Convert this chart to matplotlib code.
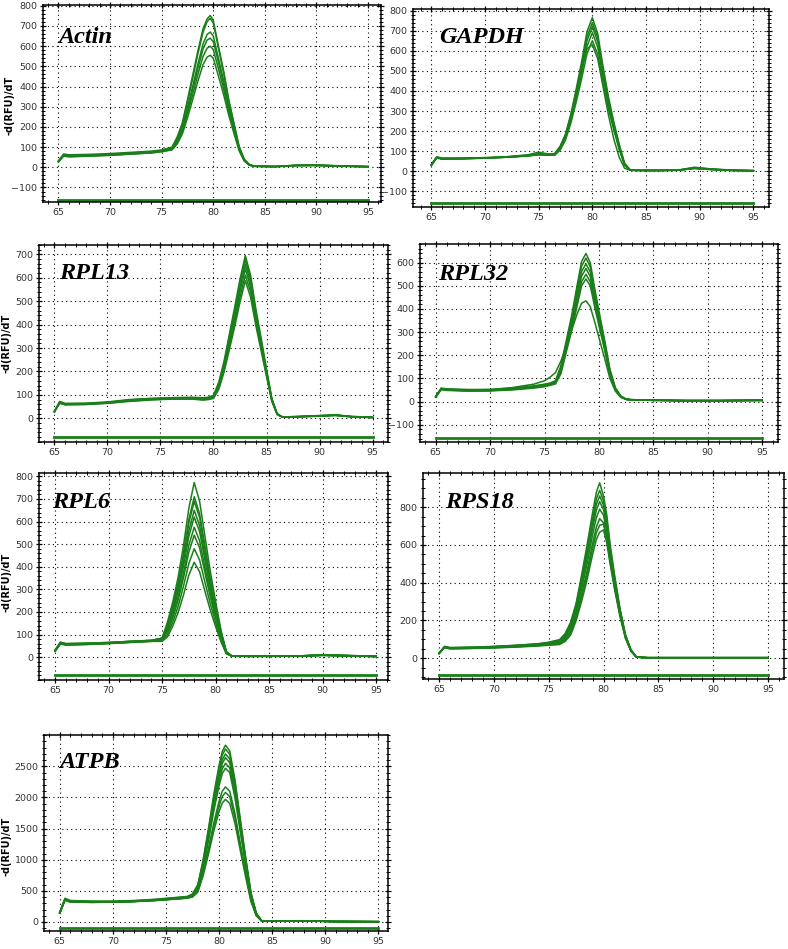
"""
Melt curve panels (-d(RFU)/dT vs. temperature) for the seven reference genes.
Each gene has its own temperature knots and a handful of replicate curves read off the instrument plots.
"""

import matplotlib
matplotlib.use('Agg')
import matplotlib.pyplot as plt
from matplotlib.ticker import MultipleLocator

GREEN = '#1a7f1a'

# Actin.
actin_t = [65, 65.5, 66, 68, 70, 72, 74, 75, 76, 76.5, 77, 77.5, 78, 78.5, 79, 79.4, 79.7, 80, 80.5, 81, 81.5,
           82, 82.5, 83, 83.5, 84, 86, 88, 90, 92, 95]
actin_y = [[32, 66, 62, 64, 68, 74, 80, 86, 100, 150, 220, 335, 455, 575, 685, 735, 752, 728, 600, 478, 335, 220,
            105, 40, 14, 6, 4, 10, 11, 8, 4],
           [28, 60, 58, 60, 64, 70, 76, 82, 95, 142, 210, 322, 440, 560, 668, 722, 738, 715, 590, 468, 328, 212,
            100, 38, 12, 5, 4, 9, 10, 7, 3],
           [30, 58, 55, 58, 62, 68, 74, 80, 92, 135, 195, 295, 400, 510, 610, 658, 670, 650, 540, 430, 305, 198,
            95, 36, 12, 5, 4, 9, 10, 7, 3],
           [26, 62, 57, 60, 63, 69, 75, 81, 93, 130, 188, 282, 385, 488, 585, 630, 640, 622, 520, 412, 292, 190,
            92, 35, 11, 5, 4, 10, 10, 7, 3],
           [30, 55, 52, 55, 59, 65, 71, 77, 88, 122, 175, 265, 360, 458, 548, 590, 600, 583, 488, 388, 276, 180,
            88, 33, 11, 5, 3, 9, 9, 6, 3],
           [28, 57, 53, 56, 60, 66, 72, 78, 86, 115, 165, 245, 335, 425, 508, 546, 555, 540, 452, 360, 258, 168,
            82, 31, 10, 5, 3, 8, 9, 6, 2]]
actin_flat = -163

# GAPDH.
gapdh_t = [65, 65.5, 66, 68, 70, 72, 74, 75, 76, 76.5, 77, 77.5, 78, 78.5, 79, 79.5, 80, 80.5, 81, 81.5, 82, 82.5,
           83, 83.5, 84, 86, 88, 89.5, 91, 93, 95]
gapdh_y = [[32, 72, 66, 66, 68, 72, 80, 88, 85, 88, 125, 185, 285, 410, 545, 695, 765, 685, 520, 370, 245, 135,
            40, 8, 5, 4, 6, 20, 12, 6, 4],
           [28, 68, 62, 63, 66, 70, 78, 84, 82, 86, 120, 178, 275, 395, 525, 670, 740, 665, 505, 358, 236, 128,
            38, 8, 5, 4, 5, 18, 11, 5, 3],
           [30, 70, 64, 64, 67, 72, 82, 95, 85, 84, 115, 172, 266, 382, 510, 650, 720, 645, 490, 346, 228, 122,
            36, 7, 5, 4, 6, 16, 10, 5, 3],
           [28, 66, 60, 62, 65, 70, 76, 82, 80, 82, 110, 165, 255, 366, 488, 622, 690, 618, 468, 330, 218, 115,
            33, 7, 4, 4, 5, 15, 9, 4, 2],
           [30, 68, 62, 63, 66, 70, 77, 83, 80, 80, 105, 155, 240, 345, 460, 585, 650, 582, 440, 310, 205, 108,
            30, 6, 4, 4, 5, 14, 9, 4, 2],
           [30, 68, 62, 63, 66, 70, 77, 83, 82, 88, 120, 180, 275, 390, 510, 610, 630, 560, 420, 280, 160, 70,
            15, 5, 4, 4, 5, 14, 9, 4, 2]]
gapdh_flat = -158

# RPL13.
rpl13_t = [65, 65.5, 66, 68, 70, 72, 74, 76, 78, 79, 79.5, 80, 80.5, 81, 81.5, 82, 82.5, 83, 83.5, 84, 84.5, 85,
           85.5, 86, 86.5, 88, 90, 91.5, 93, 95]
rpl13_y = [[30, 72, 64, 65, 70, 80, 85, 88, 90, 88, 90, 98, 155, 245, 360, 475, 595, 695, 610, 465, 340, 210, 85,
            20, 6, 8, 12, 15, 8, 5],
           [28, 68, 60, 62, 67, 77, 83, 86, 88, 86, 88, 95, 148, 236, 348, 460, 578, 678, 595, 452, 330, 204, 82,
            19, 6, 8, 11, 14, 8, 4],
           [30, 70, 62, 63, 68, 78, 84, 86, 86, 84, 86, 93, 142, 228, 336, 445, 560, 658, 578, 440, 320, 198, 80,
            18, 6, 7, 11, 14, 7, 4],
           [26, 66, 58, 60, 65, 74, 80, 83, 84, 82, 84, 90, 136, 218, 322, 428, 540, 638, 560, 426, 310, 192, 78,
            18, 5, 7, 10, 13, 7, 4],
           [28, 68, 60, 62, 66, 76, 82, 85, 84, 80, 82, 88, 130, 208, 308, 410, 518, 612, 538, 410, 298, 185, 75,
            17, 5, 7, 10, 13, 7, 4],
           [30, 64, 58, 59, 64, 72, 78, 82, 82, 78, 80, 85, 124, 198, 294, 392, 496, 588, 516, 394, 286, 178, 72,
            16, 5, 6, 9, 12, 6, 3]]
rpl13_flat = -81

# RPL32.
rpl32_t = [65, 65.5, 66, 68, 70, 72, 74, 75, 75.5, 76, 76.5, 77, 77.5, 78, 78.4, 78.8, 79.2, 79.6, 80, 80.5, 81,
           81.5, 82, 82.5, 83, 85, 88, 91, 95]
rpl32_y = [[22, 58, 55, 52, 52, 58, 68, 75, 80, 90, 155, 265, 375, 505, 605, 640, 600, 490, 390, 270, 140, 60, 24,
            10, 8, 6, 4, 4, 6],
           [20, 55, 52, 50, 50, 56, 65, 72, 77, 86, 148, 255, 362, 488, 585, 620, 582, 475, 378, 262, 136, 58, 23,
            10, 8, 6, 4, 4, 6],
           [24, 56, 52, 48, 48, 54, 62, 70, 75, 84, 140, 245, 348, 468, 562, 595, 560, 458, 365, 252, 130, 56, 22,
            10, 8, 6, 4, 4, 5],
           [18, 52, 50, 46, 47, 52, 60, 66, 72, 80, 132, 235, 335, 452, 542, 575, 540, 442, 352, 244, 126, 54, 22,
            10, 7, 6, 4, 4, 5],
           [22, 54, 50, 47, 48, 53, 62, 70, 74, 80, 128, 225, 320, 432, 518, 550, 518, 424, 338, 234, 120, 52, 21,
            9, 7, 5, 4, 4, 5],
           [20, 52, 48, 45, 46, 50, 58, 64, 70, 76, 120, 215, 308, 416, 500, 530, 500, 410, 326, 226, 116, 50, 20,
            9, 7, 5, 3, 3, 5],
           [22, 56, 52, 50, 52, 60, 75, 90, 105, 125, 175, 240, 310, 380, 425, 435, 410, 345, 275, 190, 100, 45, 18,
            9, 7, 5, 4, 4, 5]]
rpl32_flat = -158

# RPL6.
rpl6_t = [65, 65.5, 66, 68, 70, 72, 74, 75, 75.5, 76, 76.5, 77, 77.5, 78, 78.5, 79, 79.5, 80, 80.5, 81, 81.5, 83,
          86, 88, 90, 92, 95]
rpl6_y = [[30, 66, 60, 62, 65, 70, 74, 85, 155, 245, 355, 495, 660, 773, 690, 535, 380, 245, 120, 25, 6, 4, 5, 6,
           10, 8, 4],
          [28, 64, 58, 60, 63, 68, 72, 82, 145, 228, 330, 460, 610, 710, 635, 492, 350, 225, 110, 23, 6, 4, 5, 6,
           9, 7, 4],
          [30, 66, 60, 62, 65, 70, 74, 84, 142, 222, 322, 448, 594, 690, 618, 478, 340, 220, 108, 22, 6, 4, 5, 6,
           10, 8, 4],
          [26, 62, 56, 58, 62, 67, 72, 80, 132, 208, 302, 422, 560, 650, 582, 450, 320, 207, 102, 21, 5, 4, 5, 6,
           9, 7, 4],
          [30, 64, 58, 60, 64, 70, 75, 82, 128, 200, 290, 405, 535, 620, 556, 430, 305, 198, 98, 20, 5, 4, 5, 6,
           9, 7, 3],
          [28, 60, 55, 57, 61, 66, 71, 78, 118, 185, 268, 375, 496, 575, 515, 398, 284, 184, 90, 19, 5, 4, 4, 5,
           9, 7, 3],
          [30, 62, 56, 58, 62, 67, 72, 76, 112, 174, 252, 352, 466, 540, 484, 374, 266, 172, 85, 18, 5, 4, 4, 5,
           8, 6, 3],
          [26, 58, 54, 56, 60, 65, 70, 72, 100, 155, 225, 315, 415, 480, 430, 332, 236, 153, 76, 16, 5, 4, 4, 5,
           8, 6, 3],
          [28, 60, 55, 57, 61, 66, 70, 70, 90, 138, 198, 276, 364, 420, 378, 292, 208, 135, 68, 15, 5, 3, 4, 5,
           8, 6, 3]]
rpl6_flat = -81

# RPS18.
rps18_t = [65, 65.5, 66, 68, 70, 72, 74, 75, 76, 76.5, 77, 77.5, 78, 78.5, 79, 79.35, 79.65, 80, 80.3, 80.6, 81,
           81.5, 82, 82.5, 83, 84, 88, 91, 95]
rps18_y = [[25, 62, 56, 58, 62, 68, 76, 84, 98, 130, 190, 290, 440, 600, 770, 880, 930, 860, 760, 605, 445, 265,
            125, 45, 6, 2, 2, 2, 2],
           [24, 60, 55, 57, 61, 67, 75, 82, 95, 125, 180, 280, 420, 572, 740, 845, 890, 835, 735, 588, 432, 258,
            122, 42, 6, 2, 2, 2, 2],
           [26, 60, 54, 56, 60, 66, 73, 80, 92, 120, 172, 270, 405, 552, 715, 815, 860, 812, 715, 575, 420, 252,
            120, 42, 6, 2, 2, 2, 2],
           [24, 58, 53, 55, 59, 64, 71, 78, 88, 114, 164, 258, 388, 530, 688, 785, 830, 788, 695, 560, 410, 245,
            116, 40, 5, 2, 2, 2, 2],
           [26, 58, 52, 54, 58, 63, 70, 76, 85, 108, 154, 244, 366, 500, 652, 745, 790, 758, 670, 540, 395, 238,
            113, 40, 5, 2, 2, 2, 2],
           [24, 56, 50, 52, 56, 61, 68, 73, 80, 100, 140, 225, 338, 462, 608, 695, 740, 718, 640, 520, 382, 230,
            110, 38, 5, 2, 2, 2, 2],
           [26, 56, 50, 52, 55, 60, 66, 71, 76, 95, 132, 212, 320, 440, 580, 665, 705, 710, 635, 515, 378, 228,
            108, 38, 5, 2, 2, 2, 2],
           [24, 55, 50, 51, 54, 58, 64, 68, 72, 88, 122, 198, 300, 415, 548, 630, 668, 680, 612, 500, 368, 222,
            106, 37, 5, 2, 2, 2, 2]]
rps18_flat = -90

# ATPB.
atpb_t = [65, 65.5, 66, 68, 70, 72, 74, 76, 77, 77.5, 78, 78.5, 79, 79.5, 80, 80.3, 80.6, 81, 81.5, 82, 82.5, 83,
          83.5, 84, 85, 88, 91, 95]
atpb_y = [[150, 380, 345, 335, 335, 345, 365, 395, 410, 450, 600, 1000, 1500, 2050, 2520, 2740, 2840, 2750, 2280,
           1650, 1040, 470, 140, 20, 18, 20, 8, 5],
          [140, 370, 335, 325, 325, 335, 355, 385, 400, 440, 585, 975, 1465, 2005, 2465, 2680, 2780, 2695, 2235,
           1620, 1020, 462, 138, 20, 18, 20, 8, 5],
          [160, 375, 340, 330, 330, 340, 360, 390, 405, 440, 575, 950, 1425, 1950, 2395, 2605, 2700, 2620, 2175,
           1575, 995, 450, 135, 20, 18, 19, 8, 5],
          [145, 365, 330, 320, 322, 332, 350, 378, 392, 430, 560, 925, 1390, 1905, 2340, 2545, 2640, 2560, 2125,
           1540, 972, 440, 132, 19, 17, 19, 7, 5],
          [150, 360, 325, 318, 320, 330, 348, 372, 388, 420, 545, 895, 1345, 1840, 2260, 2460, 2550, 2475, 2055,
           1490, 940, 425, 128, 19, 17, 18, 7, 4],
          [140, 355, 320, 315, 318, 328, 345, 368, 382, 410, 530, 868, 1300, 1780, 2190, 2385, 2470, 2400, 1990,
           1445, 912, 412, 125, 18, 16, 18, 7, 4],
          [150, 360, 328, 320, 322, 332, 352, 380, 392, 415, 510, 800, 1180, 1590, 1940, 2100, 2170, 2100, 1740,
           1260, 800, 360, 110, 17, 15, 17, 7, 4],
          [145, 350, 320, 315, 318, 328, 345, 372, 385, 405, 495, 775, 1140, 1530, 1865, 2015, 2080, 2015, 1670,
           1210, 765, 345, 105, 16, 15, 16, 6, 4],
          [140, 355, 322, 316, 320, 330, 348, 375, 388, 402, 480, 745, 1090, 1460, 1775, 1910, 1970, 1905, 1580,
           1145, 725, 328, 100, 16, 14, 16, 6, 4]]
atpb_flat = -96

# Panel names and y tick values.
names = ['Actin', 'GAPDH', 'RPL13', 'RPL32', 'RPL6', 'RPS18', 'ATPB']
y_ticks = [list(range(-100, 801, 100)), list(range(-100, 801, 100)), list(range(0, 701, 100)),
           list(range(-100, 601, 100)), list(range(0, 801, 100)), list(range(0, 801, 200)),
           list(range(0, 2501, 500))]
x_ticks = [65, 70, 75, 80, 85, 90, 95]

# Layout: axes box in pixels (left, top, right, bottom), x/y limits, minor y step, name position, ylabel spot.
W, H = 788, 949
boxes = [(43, 5, 381, 202), (413, 9, 769, 207), (39, 245, 388, 442), (420, 244, 778, 442),
         (39, 473, 388, 680), (423, 473, 784, 679), (44, 735, 388, 931)]
x_lims = [(63.5, 96.25), (63.3, 96.45), (63.55, 96.45), (63.55, 96.45), (63.5, 96.1), (63.54, 96.46),
          (63.52, 95.9)]
y_lims = [(-172, 804), (-178, 808), (-101, 740), (-175, 681), (-101, 815), (-111, 982), (-145, 3004)]
y_minor = [20, 20, 20, 20, 20, 50, 100]
name_pos = [(0.044, 0.807), (0.074, 0.83), (0.058, 0.826), (0.051, 0.818), (0.036, 0.829), (0.061, 0.829),
            (0.044, 0.83)]
# Right edge of the rotated y label in pixels (None = no label), and its vertical centre as an axes fraction.
label_px = [15, None, 12, None, 12, None, 12]
label_yc = [0.49, None, 0.5, None, 0.47, None, 0.43]


def draw_panel(fig, i, temps, curves, flat):
    """ Draws a single melt curve panel.

    :param fig: Figure to draw on.
    :param i: Panel index.
    :param temps: Temperature knots for this gene.
    :param curves: List of replicate curves (one value per knot).
    :param flat: Level of the flat control line at the bottom of the panel.
    :return: The axes.
    """
    l, t, r, b = boxes[i]
    ax = fig.add_axes([l / W, 1 - b / H, (r - l) / W, (b - t) / H])

    for c in curves:
        ax.plot(temps, c, color=GREEN, lw=1.1, solid_joinstyle='round')
    ax.plot([x_ticks[0], x_ticks[-1]], [flat, flat], color=GREEN, lw=2.0)

    ax.set_xlim(x_lims[i]), ax.set_ylim(y_lims[i])
    ax.set_xticks(x_ticks), ax.set_yticks(y_ticks[i])
    ax.xaxis.set_minor_locator(MultipleLocator(1))
    ax.yaxis.set_minor_locator(MultipleLocator(y_minor[i]))
    ax.tick_params(which='both', direction='inout', labelsize=6.8, labelcolor='#333333', top=True, right=True,
                   pad=1.5)
    ax.tick_params(which='major', length=5, width=0.9)
    ax.tick_params(which='minor', length=3, width=0.7)
    ax.grid(which='major', linestyle=(0, (1, 3)), color='black', lw=0.8)
    for s in ax.spines.values():
        s.set_linewidth(1.1)

    ax.text(name_pos[i][0], name_pos[i][1], names[i], transform=ax.transAxes, ha='left', va='baseline',
            fontsize=17.5, fontweight='bold', fontstyle='italic', family='Liberation Serif')

    if label_px[i] is not None:
        ax.set_ylabel('-d(RFU)/dT', fontsize=7, fontweight='bold')
        ax.yaxis.set_label_coords((label_px[i] - l) / (r - l), label_yc[i])
    return ax


fig = plt.figure(figsize=(W / 100, H / 100), dpi=100)
data = [(actin_t, actin_y, actin_flat), (gapdh_t, gapdh_y, gapdh_flat), (rpl13_t, rpl13_y, rpl13_flat),
        (rpl32_t, rpl32_y, rpl32_flat), (rpl6_t, rpl6_y, rpl6_flat), (rps18_t, rps18_y, rps18_flat),
        (atpb_t, atpb_y, atpb_flat)]
for k, (tt, yy, ff) in enumerate(data):
    draw_panel(fig, k, tt, yy, ff)

fig.savefig('out.png', dpi=100)
